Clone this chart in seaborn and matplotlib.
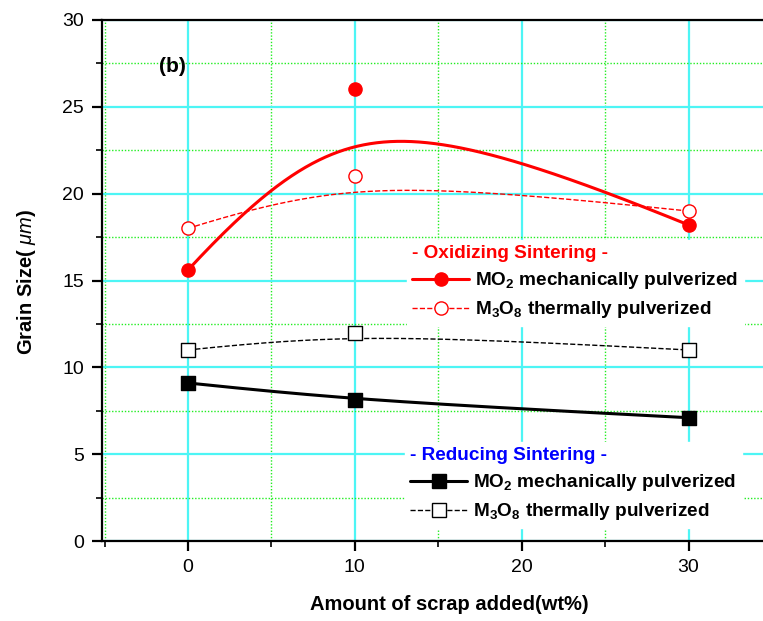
import numpy as np
import pandas as pd
import seaborn as sns
import matplotlib
matplotlib.use("Agg")
import matplotlib.pyplot as plt
from matplotlib.lines import Line2D
from matplotlib.ticker import MultipleLocator

# ---- data ----
scrap = [0, 10, 30]
ox_mo2 = [15.6, 26.0, 18.2]
ox_m3o8 = [18.0, 21.0, 19.0]
red_mo2 = [9.1, 8.1, 7.1]
red_m3o8 = [11.0, 12.0, 11.0]

ox_title = "- Oxidizing Sintering -"
red_title = "- Reducing Sintering -"
lab_mo2 = r"MO$_2$ mechanically pulverized"
lab_m3o8 = r"M$_3$O$_8$ thermally pulverized"


def smooth(x, y, w=2.0, n=200):
    """Rational quadratic Bezier through the end points (Origin-like B-spline look)."""
    x = np.asarray(x, float)
    y = np.asarray(y, float)
    t = np.linspace(0, 1, n)
    b0, b1, b2 = (1 - t) ** 2, 2 * w * t * (1 - t), t ** 2
    d = b0 + b1 + b2
    return (b0 * x[0] + b1 * x[1] + b2 * x[2]) / d, (b0 * y[0] + b1 * y[1] + b2 * y[2]) / d


sns.set_style("ticks")
plt.rcParams["font.family"] = ["Liberation Sans", "DejaVu Sans"]
plt.rcParams["mathtext.fontset"] = "custom"
plt.rcParams["mathtext.rm"] = "Liberation Sans:bold"
plt.rcParams["mathtext.it"] = "Liberation Sans:italic"
plt.rcParams["mathtext.bf"] = "Liberation Sans:bold"
for k in ["text.color", "axes.labelcolor", "xtick.color", "ytick.color"]:
    plt.rcParams[k] = "black"

fig = plt.figure(figsize=(7.63, 6.21), dpi=100)
ax = fig.add_axes([102 / 763, 1 - 541 / 621, (772 - 102) / 763, (541 - 20) / 621])

series = [
    (ox_mo2, "red", "-", 2.2, "o", "red"),
    (ox_m3o8, "red", "--", 1.0, "o", "white"),
    (red_mo2, "black", "-", 2.2, "s", "black"),
    (red_m3o8, "black", "--", 1.0, "s", "white"),
]
for vals, col, ls, lw, mk, fc in series:
    cx, cy = smooth(scrap, vals)
    sns.lineplot(x=cx, y=cy, ax=ax, color=col, linestyle=ls, linewidth=lw,
                 sort=False, estimator=None, zorder=3, legend=False)
    sns.scatterplot(x=scrap, y=vals, ax=ax, marker=mk, s=90, facecolor=fc,
                    edgecolor=col, linewidth=1.0, zorder=4, legend=False)

ax.set_xlim(-5.15, 35)
ax.set_ylim(0, 30)
ax.xaxis.set_major_locator(MultipleLocator(10))
ax.xaxis.set_minor_locator(MultipleLocator(5))
ax.yaxis.set_major_locator(MultipleLocator(5))
ax.yaxis.set_minor_locator(MultipleLocator(2.5))
ax.grid(which="major", color="#4df5f5", linewidth=1.6, linestyle="-", zorder=0)
ax.grid(which="minor", color="#22ee22", linewidth=1.0, linestyle=(0, (1, 1.3)), zorder=0)
ax.set_axisbelow(True)

for s in ["left", "bottom", "top"]:
    ax.spines[s].set_linewidth(1.6)
    ax.spines[s].set_color("black")
ax.spines["right"].set_visible(False)
ax.tick_params(which="major", direction="out", length=7, width=1.6, labelsize=14, pad=6)
ax.tick_params(which="minor", direction="out", length=4, width=1.2)

ax.set_xlabel("Amount of scrap added(wt%)", fontsize=14.5, fontweight="bold")
ax.set_ylabel(r"Grain Size( $\mathit{\mu m}$)", fontsize=14.5, fontweight="bold")
ax.xaxis.set_label_coords((449 - 102) / 670, -54 / 521)
ax.yaxis.set_label_coords(-(102 - 38) / 670, (541 - 282) / 521)

ax.text(-0.15, 27.3, "(b)", fontsize=15, fontweight="bold", ha="right", va="center")

# legends
h_ox = [
    Line2D([], [], color="red", lw=2.2, ls="-", marker="o", ms=9.5, mfc="red", mec="red"),
    Line2D([], [], color="red", lw=1.0, ls="--", marker="o", ms=9.5, mfc="white", mec="red"),
]
h_red = [
    Line2D([], [], color="black", lw=2.2, ls="-", marker="s", ms=9.5, mfc="black", mec="black"),
    Line2D([], [], color="black", lw=1.0, ls="--", marker="s", ms=9.5, mfc="white", mec="black"),
]
common = dict(frameon=True, facecolor="white", edgecolor="white", framealpha=1,
              fancybox=False, prop={"weight": "bold", "size": 13.7},
              title_fontproperties={"weight": "bold", "size": 13.7},
              handlelength=3.0, handletextpad=0.3, labelspacing=0.42,
              borderpad=0.3, alignment="left")
leg1 = ax.legend(h_ox, [lab_mo2, lab_m3o8], title=ox_title, loc="upper left",
                 bbox_to_anchor=((397 - 102) / 670, (541 - 230) / 521), **common)
leg1.get_title().set_color("red")
ax.add_artist(leg1)
leg2 = ax.legend(h_red, [lab_mo2, lab_m3o8], title=red_title, loc="upper left",
                 bbox_to_anchor=((395 - 102) / 670, (541 - 432) / 521), **common)
leg2.get_title().set_color("blue")
for lg in (leg1, leg2):
    lg.set_zorder(5)

fig.savefig("out.png", dpi=100)
